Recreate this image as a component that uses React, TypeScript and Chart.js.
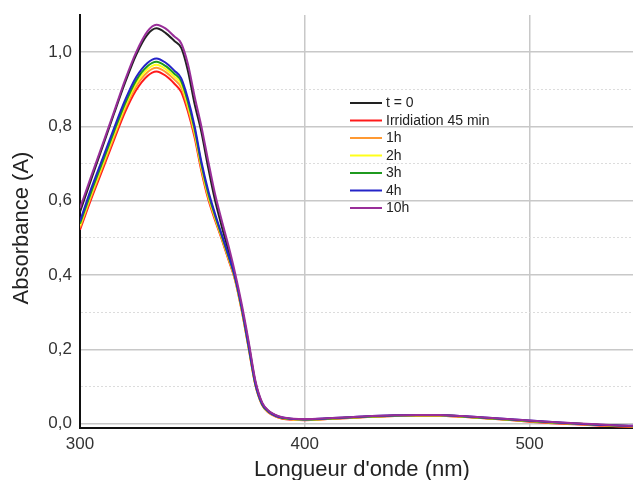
import React, { useEffect, useRef } from "react";
import { Chart, registerables } from "chart.js";

Chart.register(...registerables);

// ---- data ----
const wavelengths = [300, 305, 310, 315, 320, 325, 330, 334, 338, 342, 345, 348, 351, 354, 357, 360, 363, 366, 369, 372, 375, 378, 381, 384, 387, 390, 395, 400, 410, 420, 430, 440, 450, 460, 470, 480, 490, 500, 510, 520, 530, 540, 546];

const seriesLabels = ["t = 0", "Irridiation 45 min", "1h", "2h", "3h", "4h", "10h"];
const seriesColors = ["#222222", "#ff1a1a", "#ff9933", "#ffff1a", "#1f9a1f", "#2424c8", "#992e99"];

const abs_t0 = [0.570, 0.658, 0.745, 0.832, 0.917, 0.993, 1.047, 1.064, 1.052, 1.030, 1.012, 0.950, 0.860, 0.785, 0.690, 0.603, 0.532, 0.466, 0.395, 0.310, 0.215, 0.112, 0.055, 0.033, 0.022, 0.016, 0.012, 0.011, 0.013, 0.016, 0.019, 0.021, 0.022, 0.022, 0.019, 0.015, 0.011, 0.007, 0.003, 0.000, -0.003, -0.006, -0.007];
const abs_45min = [0.522, 0.605, 0.683, 0.762, 0.838, 0.898, 0.936, 0.948, 0.937, 0.915, 0.893, 0.840, 0.770, 0.680, 0.605, 0.549, 0.497, 0.442, 0.386, 0.302, 0.203, 0.104, 0.050, 0.029, 0.019, 0.013, 0.010, 0.009, 0.012, 0.015, 0.018, 0.020, 0.021, 0.021, 0.018, 0.014, 0.010, 0.005, 0.001, -0.002, -0.005, -0.008, -0.009];
const abs_1h = [0.528, 0.612, 0.691, 0.770, 0.847, 0.908, 0.946, 0.958, 0.947, 0.926, 0.905, 0.850, 0.778, 0.686, 0.610, 0.553, 0.500, 0.445, 0.388, 0.304, 0.205, 0.105, 0.051, 0.030, 0.020, 0.014, 0.011, 0.010, 0.012, 0.015, 0.018, 0.020, 0.021, 0.021, 0.018, 0.014, 0.010, 0.006, 0.002, -0.001, -0.004, -0.007, -0.008];
const abs_2h = [0.533, 0.618, 0.697, 0.777, 0.854, 0.916, 0.954, 0.966, 0.955, 0.934, 0.914, 0.858, 0.785, 0.692, 0.616, 0.557, 0.503, 0.448, 0.390, 0.306, 0.207, 0.106, 0.052, 0.031, 0.020, 0.015, 0.011, 0.010, 0.013, 0.016, 0.019, 0.021, 0.022, 0.022, 0.019, 0.015, 0.011, 0.007, 0.003, 0.000, -0.003, -0.006, -0.007];
const abs_3h = [0.538, 0.624, 0.704, 0.784, 0.861, 0.924, 0.962, 0.974, 0.963, 0.942, 0.922, 0.866, 0.792, 0.698, 0.621, 0.561, 0.506, 0.451, 0.392, 0.308, 0.208, 0.107, 0.052, 0.031, 0.021, 0.015, 0.012, 0.011, 0.013, 0.016, 0.019, 0.021, 0.022, 0.022, 0.019, 0.015, 0.011, 0.007, 0.003, 0.000, -0.003, -0.006, -0.007];
const abs_4h = [0.545, 0.633, 0.713, 0.793, 0.870, 0.933, 0.971, 0.983, 0.972, 0.950, 0.930, 0.875, 0.800, 0.705, 0.628, 0.566, 0.510, 0.454, 0.394, 0.310, 0.210, 0.108, 0.053, 0.032, 0.021, 0.016, 0.012, 0.011, 0.014, 0.017, 0.020, 0.022, 0.023, 0.023, 0.020, 0.016, 0.012, 0.008, 0.004, 0.000, -0.003, -0.005, -0.006];
const abs_10h = [0.580, 0.666, 0.751, 0.837, 0.924, 1.000, 1.056, 1.074, 1.064, 1.042, 1.024, 0.968, 0.880, 0.800, 0.708, 0.620, 0.548, 0.480, 0.405, 0.320, 0.222, 0.116, 0.057, 0.034, 0.023, 0.017, 0.013, 0.012, 0.014, 0.017, 0.020, 0.022, 0.023, 0.023, 0.020, 0.016, 0.012, 0.008, 0.004, 0.001, -0.002, -0.005, -0.006];

const seriesValues = [abs_t0, abs_45min, abs_1h, abs_2h, abs_3h, abs_4h, abs_10h];
const drawOrder = [6, 5, 4, 3, 2, 1, 0];

const xTickValues = [300, 400, 500];
const yTickValues = [0, 0.1, 0.2, 0.3, 0.4, 0.5, 0.6, 0.7, 0.8, 0.9, 1.0];

const xTitle = "Longueur d'onde (nm)";
const yTitle = "Absorbance (A)";

const FONT = "'Liberation Sans', Arial, Helvetica, sans-serif";

const isMinor = (v: number) => Math.round(v * 10) % 2 === 1;

const overlayPlugin = {
  id: "overlay",
  afterDraw(chart: any) {
    const ctx = chart.ctx;
    ctx.save();
    // axis titles
    ctx.fillStyle = "#222";
    ctx.font = `22px ${FONT}`;
    ctx.textAlign = "center";
    ctx.textBaseline = "middle";
    ctx.fillText(xTitle, 362, 470);
    ctx.save();
    ctx.translate(22, 228);
    ctx.rotate(-Math.PI / 2);
    ctx.fillText(yTitle, 0, 0);
    ctx.restore();
    // legend
    ctx.font = `14px ${FONT}`;
    ctx.textAlign = "left";
    const lx = 350, ly = 103, step = 17.5;
    seriesLabels.forEach((lab, i) => {
      const y = ly + i * step;
      ctx.strokeStyle = seriesColors[i];
      ctx.lineWidth = 2;
      ctx.beginPath();
      ctx.moveTo(lx, y);
      ctx.lineTo(lx + 32, y);
      ctx.stroke();
      ctx.fillStyle = "#222";
      ctx.fillText(lab, lx + 36, y + 0.5);
    });
    ctx.restore();
  },
};

export default function App() {
  const canvasRef = useRef<HTMLCanvasElement | null>(null);

  useEffect(() => {
    document.body.style.margin = "0";
    const canvas = canvasRef.current;
    if (!canvas) return;
    const datasets = seriesLabels.map((label, s) => ({
      label,
      data: wavelengths.map((x, i) => ({ x, y: seriesValues[s][i] })),
      borderColor: seriesColors[s],
      backgroundColor: seriesColors[s],
      borderWidth: 2,
      pointRadius: 0,
      cubicInterpolationMode: "monotone" as const,
      order: drawOrder[s],
    }));

    const chart = new Chart(canvas, {
      type: "line",
      data: { datasets },
      plugins: [overlayPlugin],
      options: {
        animation: false,
        responsive: false,
        devicePixelRatio: 1,
        layout: { padding: { top: 15, right: 0, left: 0, bottom: 0 } },
        plugins: { legend: { display: false }, tooltip: { enabled: false } },
        scales: {
          x: {
            type: "linear",
            min: 300,
            max: 546,
            afterBuildTicks: (scale: any) => {
              scale.ticks = xTickValues.map((v) => ({ value: v }));
            },
            afterFit: (scale: any) => {
              scale.height = 52;
            },
            ticks: {
              font: { family: FONT, size: 17 },
              color: "#333",
              padding: 0,
              maxRotation: 0,
              callback: (v: any) => String(v),
            },
            grid: { color: "#c8c8c8", lineWidth: 1.5, drawTicks: true, tickLength: 6, tickColor: "rgba(0,0,0,0)" },
            border: { display: true, color: "#111", width: 2 },
          },
          y: {
            type: "linear",
            min: -0.012,
            max: 1.1,
            afterBuildTicks: (scale: any) => {
              scale.ticks = yTickValues.map((v) => ({ value: v }));
            },
            afterFit: (scale: any) => {
              scale.width = 80;
            },
            ticks: {
              font: { family: FONT, size: 17 },
              color: "#333",
              padding: 0,
              callback: (v: any) => (isMinor(Number(v)) ? "" : Number(v).toFixed(1).replace(".", ",")),
            },
            grid: {
              drawTicks: true,
              tickLength: 8,
              tickColor: "rgba(0,0,0,0)",
              color: (ctx: any) => (ctx.tick && isMinor(ctx.tick.value) ? "#dcdcdc" : "#c8c8c8"),
              lineWidth: (ctx: any) => (ctx.tick && isMinor(ctx.tick.value) ? 1 : 1.5),
            },
            border: {
              display: true,
              color: "#111",
              width: 2,
              dash: (ctx: any) => (ctx.tick && isMinor(ctx.tick.value) ? [2, 2] : []),
            },
          },
        },
      },
    } as any);
    return () => chart.destroy();
  }, []);

  return (
    <div style={{ width: 633, height: 480, background: "#fff" }}>
      <canvas ref={canvasRef} width={633} height={480} />
    </div>
  );
}
